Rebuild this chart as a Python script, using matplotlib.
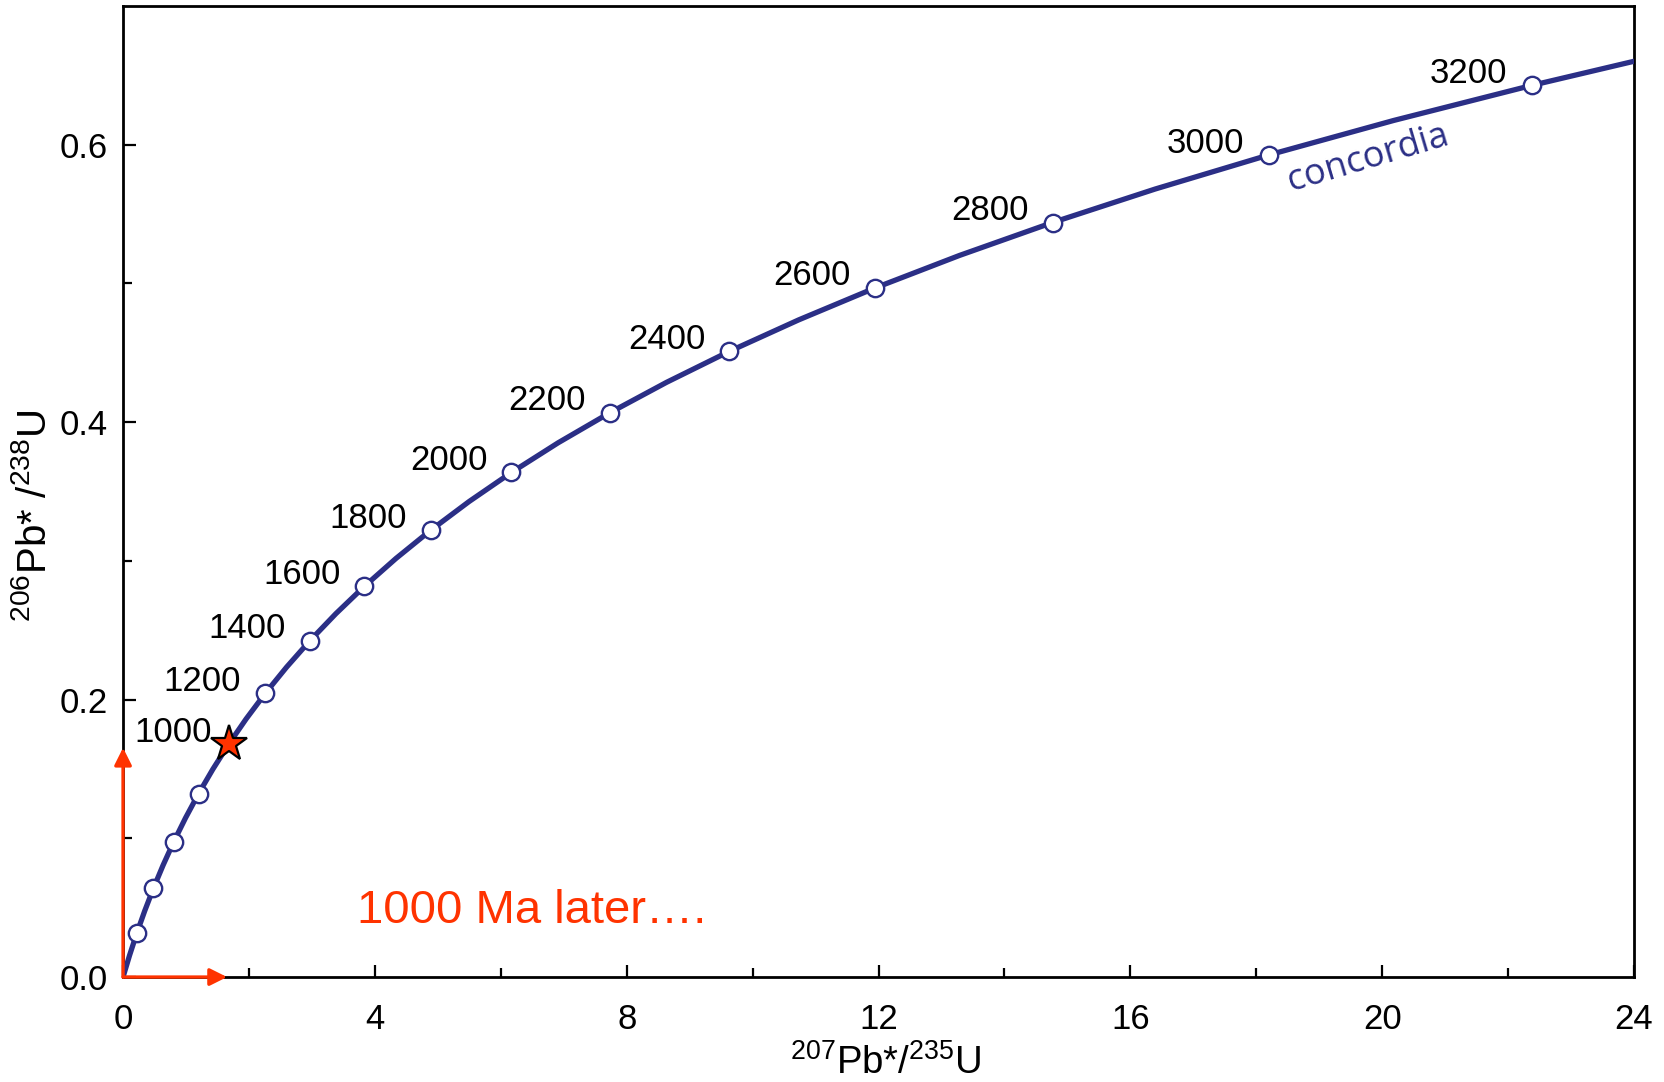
import matplotlib
matplotlib.use("Agg")
import matplotlib.pyplot as plt
import numpy as np

plt.rcParams['font.family'] = ['Liberation Sans', 'DejaVu Sans']
plt.rcParams['mathtext.fontset'] = 'custom'
plt.rcParams['mathtext.rm'] = 'Liberation Sans'
plt.rcParams['mathtext.default'] = 'regular'

# concordia traced every 100 Ma (207Pb*/235U, 206Pb*/238U)
curve_x = [0.0, 0.1035, 0.2177, 0.3438, 0.4828, 0.6362, 0.8056, 0.9924, 1.1987,
           1.4264, 1.6774, 1.9546, 2.2603, 2.5978, 2.9702, 3.3811, 3.8345,
           4.3349, 4.8868, 5.4962, 6.1687, 6.9104, 7.7296, 8.6324, 9.630,
           10.730, 11.945, 13.283, 14.764, 16.393, 18.195, 20.181, 22.374, 24.0]
curve_y = [0.0, 0.01563, 0.03151, 0.04764, 0.06400, 0.08065, 0.09754, 0.11470,
           0.13213, 0.14983, 0.16781, 0.18606, 0.20460, 0.22343, 0.24256,
           0.26199, 0.28172, 0.30177, 0.32210, 0.34280, 0.36376, 0.38514,
           0.40674, 0.42873, 0.45107, 0.47373, 0.49679, 0.52017, 0.54396,
           0.56808, 0.59260, 0.61751, 0.64278, 0.6602]

# age ticks on the curve (Ma)
tick_ages = [200, 400, 600, 800, 1200, 1400, 1600, 1800, 2000, 2200, 2400,
             2600, 2800, 3000, 3200]
tick_x = [0.2177, 0.4828, 0.8056, 1.1987, 2.2603, 2.9702, 3.8345, 4.8868,
          6.1687, 7.7296, 9.630, 11.945, 14.764, 18.195, 22.374]
tick_y = [0.03151, 0.06400, 0.09754, 0.13213, 0.20460, 0.24256, 0.28172,
          0.32210, 0.36376, 0.40674, 0.45107, 0.49679, 0.54396, 0.59260,
          0.64278]

# the sample after 1000 Ma
star_age = 1000
star_x = 1.6774
star_y = 0.16781

navy = '#2B2F86'
red = '#FF3300'

fig = plt.figure(figsize=(16.65, 10.82), dpi=100)
ax = fig.add_axes([0.0739, 0.0970, 0.9075, 0.8974])

ax.plot(curve_x, curve_y, color=navy, lw=3.8, zorder=3, solid_capstyle='round')
ax.plot(tick_x, tick_y, 'o', ms=12.5, mfc='white', mec=navy, mew=1.7, zorder=4)
ax.plot(star_x, star_y, '*', ms=27, mfc=red, mec='black', mew=1.6, zorder=5)

for age, x, y in zip(tick_ages, tick_x, tick_y):
    if age >= 1200:
        ax.annotate(str(age), (x, y), xytext=(-24, 12), textcoords='offset pixels',
                    ha='right', va='center', fontsize=25)
ax.annotate(str(star_age), (star_x, star_y), xytext=(-17, 12),
            textcoords='offset pixels', ha='right', va='center', fontsize=25)

ax.text(18.55, 0.567, 'concordia', color=navy, fontsize=26, family='Open Sans',
        rotation=16.5, rotation_mode='anchor', ha='left', va='baseline')

ax.text(3.72, 0.0387, '1000 Ma later\u2026.', color=red, fontsize=34,
        ha='left', va='baseline')

# red arrows along the axes up to the sample ratios
arrow = dict(arrowstyle='-|>', color=red, lw=2.4, mutation_scale=26,
             shrinkA=0, shrinkB=0)
ax.annotate('', xy=(star_x * 0.985, 0), xytext=(0, 0), arrowprops=arrow,
            annotation_clip=False, zorder=6)
ax.annotate('', xy=(0, star_y * 0.985), xytext=(0, 0), arrowprops=arrow,
            annotation_clip=False, zorder=6)

ax.set_xlim(0, 24)
ax.set_ylim(0, 0.70)
ax.set_xticks(np.arange(0, 25, 4))
ax.set_xticks(np.arange(2, 24, 4), minor=True)
ax.set_yticks([0.0, 0.2, 0.4, 0.6])
ax.set_yticks([0.1, 0.3, 0.5], minor=True)
ax.set_yticklabels(['0.0', '0.2', '0.4', '0.6'])

for s in ax.spines.values():
    s.set_linewidth(2)
ax.tick_params(which='both', direction='in', width=1.6, labelsize=25)
ax.tick_params(which='major', length=9)
ax.tick_params(which='minor', length=6.5)
ax.tick_params(axis='x', pad=19)
ax.tick_params(axis='y', pad=11)

ax.set_xlabel(r'$^{207}$Pb*/$^{235}$U', fontsize=27.5)
ax.set_ylabel(r'$^{206}$Pb* /$^{238}$U', fontsize=29)
ax.xaxis.set_label_coords(0.505, -0.069)
ax.yaxis.set_label_coords(-0.046, 0.475)

plt.savefig('out.png', dpi=100)
